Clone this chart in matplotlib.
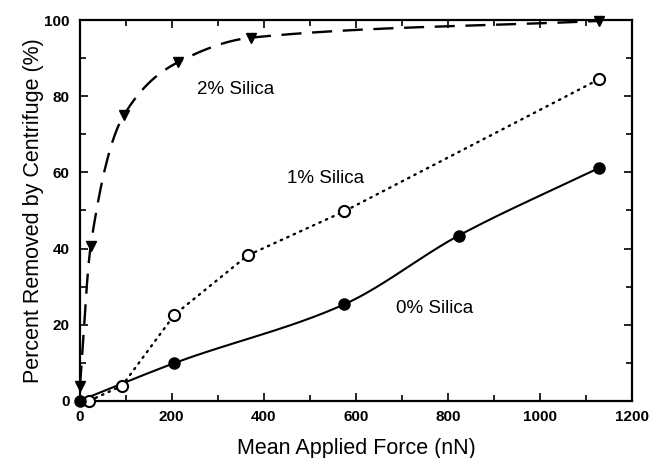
import numpy as np
import matplotlib
matplotlib.use("Agg")
import matplotlib.pyplot as plt
from matplotlib.ticker import MultipleLocator

plt.rcParams['font.family'] = ['Liberation Sans', 'DejaVu Sans']

# data
force_2 = [1, 24, 96, 213, 372, 1128]
removed_2 = [4.0, 40.6, 75.0, 88.9, 95.4, 99.8]

force_1 = [21, 92, 206, 365, 575, 1128]
removed_1 = [0.0, 3.9, 22.6, 38.2, 49.8, 84.5]

force_0 = [0, 206, 574, 823, 1128]
removed_0 = [0.0, 9.9, 25.3, 43.4, 61.2]

xticks = [0, 200, 400, 600, 800, 1000, 1200]
yticks = [0, 20, 40, 60, 80, 100]


def smooth(x, y, n=300):
    # monotone cubic (Fritsch-Carlson) just for drawing the curve
    x = np.asarray(x, float)
    y = np.asarray(y, float)
    h = np.diff(x)
    d = np.diff(y) / h
    m = np.zeros_like(x)
    m[0], m[-1] = d[0], d[-1]
    for k in range(1, len(x) - 1):
        if d[k - 1] * d[k] > 0:
            w1 = 2 * h[k] + h[k - 1]
            w2 = h[k] + 2 * h[k - 1]
            m[k] = (w1 + w2) / (w1 / d[k - 1] + w2 / d[k])
    xs = np.linspace(x[0], x[-1], n)
    i = np.clip(np.searchsorted(x, xs) - 1, 0, len(x) - 2)
    t = (xs - x[i]) / h[i]
    h00 = 2 * t**3 - 3 * t**2 + 1
    h10 = t**3 - 2 * t**2 + t
    h01 = -2 * t**3 + 3 * t**2
    h11 = t**3 - t**2
    ys = h00 * y[i] + h10 * h[i] * m[i] + h01 * y[i + 1] + h11 * h[i] * m[i + 1]
    return xs, ys


fig = plt.figure(figsize=(6.52, 4.58), dpi=100)
ax = fig.add_axes([0.122, 0.125, 0.848, 0.831])

xs, ys = smooth(force_2, removed_2)
ax.plot(xs, ys, color='black', lw=1.7, dashes=(8.5, 4.5), clip_on=False)
ax.plot(force_2, removed_2, 'v', color='black', ms=7.5, clip_on=False)

ax.plot(force_1, removed_1, color='black', lw=1.7, ls=(0, (0.6, 2.4)),
        dash_capstyle='round', clip_on=False)
ax.plot(force_1, removed_1, 'o', mfc='white', mec='black', mew=1.5, ms=8,
        clip_on=False, zorder=3)

xs, ys = smooth(force_0, removed_0)
ax.plot(xs, ys, color='black', lw=1.5, clip_on=False)
ax.plot(force_0, removed_0, 'o', color='black', ms=8, clip_on=False, zorder=3)

ax.text(339, 81.8, '2% Silica', fontsize=13.5, ha='center', va='center')
ax.text(533, 58.4, '1% Silica', fontsize=13.5, ha='center', va='center')
ax.text(771, 24.2, '0% Silica', fontsize=13.5, ha='center', va='center')

ax.set_xlim(0, 1200)
ax.set_ylim(0, 100)
ax.set_xticks(xticks)
ax.set_yticks(yticks)
ax.xaxis.set_minor_locator(MultipleLocator(100))
ax.yaxis.set_minor_locator(MultipleLocator(10))
ax.tick_params(which='both', direction='in', top=True, right=True, width=1.2)
ax.tick_params(which='major', length=6, labelsize=11, pad=7)
ax.tick_params(which='minor', length=4)
for lab in ax.get_xticklabels() + ax.get_yticklabels():
    lab.set_fontweight('bold')
for s in ax.spines.values():
    s.set_linewidth(1.6)

ax.set_xlabel('Mean Applied Force (nN)', fontsize=15.5, labelpad=10)
ax.set_ylabel('Percent Removed by Centrifuge (%)', fontsize=15.5, labelpad=0)

fig.savefig('out.png', dpi=100)
